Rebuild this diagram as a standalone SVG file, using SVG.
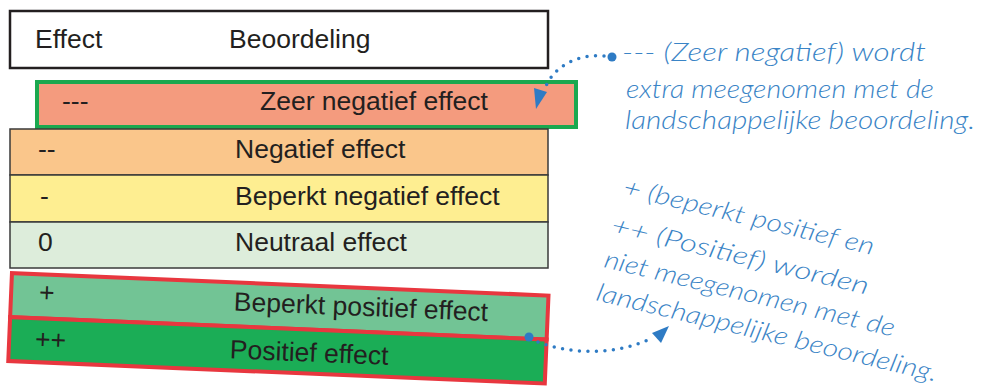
<svg xmlns="http://www.w3.org/2000/svg" width="983" height="386" viewBox="0 0 983 386">
<style>
.t{font-family:"Liberation Sans",Arial,sans-serif;font-size:26.5px;fill:#231F20}
.row{stroke:#3A3A3A;stroke-width:1.5}
.hand{font-family:"Lato","Liberation Sans",sans-serif;font-weight:300;font-style:italic;font-size:25px;fill:#3A84C6}
.dots{fill:none;stroke:#2E7BC4;stroke-width:3.5;stroke-linecap:round;stroke-dasharray:0 8.5}
.blue{fill:#2E7BC4}
</style>
<rect width="983" height="386" fill="#FFFFFF"/>
<g id="header">
<rect x="10" y="11" width="538" height="57" fill="#FFFFFF" stroke="#231F20" stroke-width="2.5"/>
<text class="t" x="35" y="48">Effect</text>
<text class="t" x="229" y="48">Beoordeling</text>
</g>
<g id="row-zeer-negatief">
<rect x="37" y="82" width="539" height="45" fill="#F49B7E" stroke="#1BA84F" stroke-width="4"/>
<text class="t" x="62" y="110">---</text>
<text class="t" x="260" y="110">Zeer negatief effect</text>
</g>
<g id="row-negatief">
<rect class="row" x="10" y="129" width="538" height="46" fill="#FAC68B"/>
<text class="t" x="38" y="158">--</text>
<text class="t" x="235" y="158">Negatief effect</text>
</g>
<g id="row-beperkt-negatief">
<rect class="row" x="10" y="175" width="538" height="47" fill="#FEEE91"/>
<text class="t" x="40" y="205">-</text>
<text class="t" x="235" y="205">Beperkt negatief effect</text>
</g>
<g id="row-neutraal">
<rect class="row" x="10" y="222" width="538" height="46" fill="#DDEDDB"/>
<text class="t" x="38" y="251">0</text>
<text class="t" x="235" y="251">Neutraal effect</text>
</g>
<g transform="rotate(2.4 10 272)">
<g id="row-beperkt-positief">
<rect x="12" y="273" width="537" height="44" fill="#72C495" stroke="#E8373F" stroke-width="4"/>
<text class="t" x="40" y="300">+</text>
<text class="t" x="235" y="301">Beperkt positief effect</text>
</g>
<g id="row-positief">
<rect x="12" y="317" width="537" height="44" fill="#1BAD56" stroke="#E8373F" stroke-width="4"/>
<text class="t" x="38" y="347">++</text>
<text class="t" x="233" y="349">Positief effect</text>
</g>
</g>
<g id="note-top">
<text class="hand" x="622" y="61" textLength="304" lengthAdjust="spacingAndGlyphs">--- (Zeer negatief) wordt</text>
<text class="hand" x="626" y="98" textLength="308" lengthAdjust="spacingAndGlyphs">extra meegenomen met de</text>
<text class="hand" x="625" y="129" textLength="350" lengthAdjust="spacingAndGlyphs">landschappelijke beoordeling.</text>
</g>
<g id="note-bottom">
<text class="hand" transform="rotate(13.5 622 195)" x="622" y="195" textLength="257" lengthAdjust="spacingAndGlyphs">+ (beperkt positief en</text>
<text class="hand" transform="rotate(13.5 610 233)" x="610" y="233" textLength="264" lengthAdjust="spacingAndGlyphs">++ (Positief) worden</text>
<text class="hand" transform="rotate(13.5 603 267)" x="603" y="267" textLength="298" lengthAdjust="spacingAndGlyphs">niet meegenomen met de</text>
<text class="hand" transform="rotate(13.5 595 300)" x="595" y="300" textLength="350" lengthAdjust="spacingAndGlyphs">landschappelijke beoordeling.</text>
</g>
<g id="connectors">
<circle class="blue" cx="612" cy="57" r="4.5"/>
<path class="dots" d="M604,56 C580,54 556,64 546,86"/>
<polygon class="blue" points="534,88 547,92 536,109"/>
<circle class="blue" cx="529" cy="337" r="4.5"/>
<path class="dots" d="M538,342 C575,356 620,354 652,338"/>
<polygon class="blue" points="669,326 652,333 661,343"/>
</g>
</svg>
